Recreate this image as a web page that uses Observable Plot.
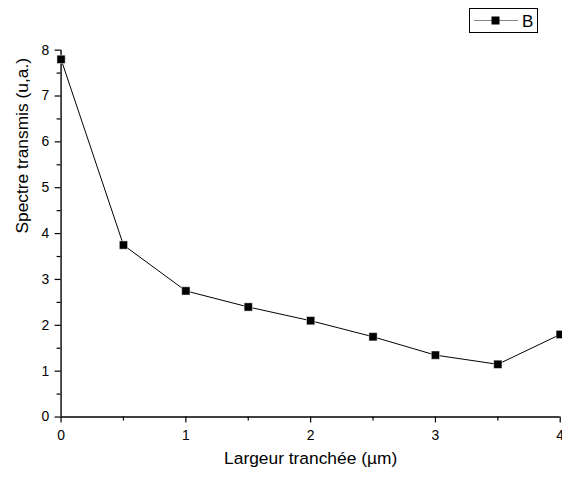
<!DOCTYPE html>
<html>
<head>
<meta charset="utf-8">
<script src="https://cdn.jsdelivr.net/npm/d3@7"></script>
<script src="https://cdn.jsdelivr.net/npm/@observablehq/plot@0.6"></script>
<style>
  html, body { margin: 0; padding: 0; background: #fff; }
  #wrap { position: relative; width: 562px; height: 477px; overflow: hidden; }
  #legend { position: absolute; left: 469px; top: 8px; }
</style>
</head>
<body>
<div id="wrap"></div>
<script>
// Data
const widths = [0, 0.5, 1, 1.5, 2, 2.5, 3, 3.5, 4];
const spectre = [7.8, 3.75, 2.75, 2.4, 2.1, 1.75, 1.35, 1.15, 1.8];
const xTicks = [0, 1, 2, 3, 4];
const xMinor = [0.5, 1.5, 2.5, 3.5];
const yTicks = [0, 1, 2, 3, 4, 5, 6, 7, 8];
const yMinor = [0.5, 1.5, 2.5, 3.5, 4.5, 5.5, 6.5, 7.5];
const seriesName = "B";
const xLabel = "Largeur tranchée (µm)";
const yLabel = "Spectre transmis (u,a.)";

const data = widths.map((w, i) => ({x: w, y: spectre[i]}));
const font = "'Liberation Sans', Arial, sans-serif";

const chart = Plot.plot({
  width: 566,
  height: 477,
  marginLeft: 61,
  marginRight: 2.3,
  marginTop: 50,
  marginBottom: 57.5,
  style: {fontFamily: font, color: "#000", background: "#fff"},
  x: {domain: [0, 4]},
  y: {domain: [0, 8]},
  marks: [
    Plot.axisX({ticks: xTicks, tickSize: 6, text: null, label: null, strokeWidth: 1.2}),
    Plot.axisX({ticks: xMinor, tickSize: 4, text: null, label: null, strokeWidth: 1.2}),
    Plot.axisY({ticks: yTicks, tickSize: 6, text: null, label: null, strokeWidth: 1.2}),
    Plot.axisY({ticks: yMinor, tickSize: 4, text: null, label: null, strokeWidth: 1.2}),
    Plot.text(xTicks, {x: d => d, y: 0, dy: 19, text: d => String(d), fontSize: 14, fill: "#000"}),
    Plot.text(yTicks, {x: 0, y: d => d, dx: -12, textAnchor: "end", text: d => String(d), fontSize: 14, fill: "#000"}),
    Plot.ruleY([0], {stroke: "#000", strokeWidth: 1.4}),
    Plot.ruleX([0], {stroke: "#000", strokeWidth: 1.4}),
    Plot.line(data, {x: "x", y: "y", stroke: "#000", strokeWidth: 1}),
    Plot.dot(data, {x: "x", y: "y", symbol: "square", r: 4.7, fill: "#000", stroke: "#fff", strokeWidth: 0.5}),
    Plot.text([xLabel], {frameAnchor: "bottom", dy: 47, text: d => d, fontSize: 17.5, fill: "#000"}),
    Plot.text([yLabel], {frameAnchor: "left", dx: -39, rotate: -90, text: d => d, fontSize: 17.5, fill: "#000"})
  ]
});
document.getElementById("wrap").appendChild(chart);

// Legend box
const leg = d3.select("#wrap").append("svg")
  .attr("id", "legend")
  .attr("width", 70).attr("height", 26);
leg.append("rect").attr("x", 0.5).attr("y", 0.5).attr("width", 68).attr("height", 24)
  .attr("fill", "#fff").attr("stroke", "#000").attr("stroke-width", 1);
leg.append("line").attr("x1", 5).attr("x2", 49).attr("y1", 12.5).attr("y2", 12.5)
  .attr("stroke", "#888").attr("stroke-width", 1.2);
leg.append("rect").attr("x", 22.5).attr("y", 8.5).attr("width", 8).attr("height", 8).attr("fill", "#000");
leg.append("text").attr("x", 53).attr("y", 18.5)
  .attr("font-family", font).attr("font-size", 17)
  .text(seriesName);
</script>
</body>
</html>
